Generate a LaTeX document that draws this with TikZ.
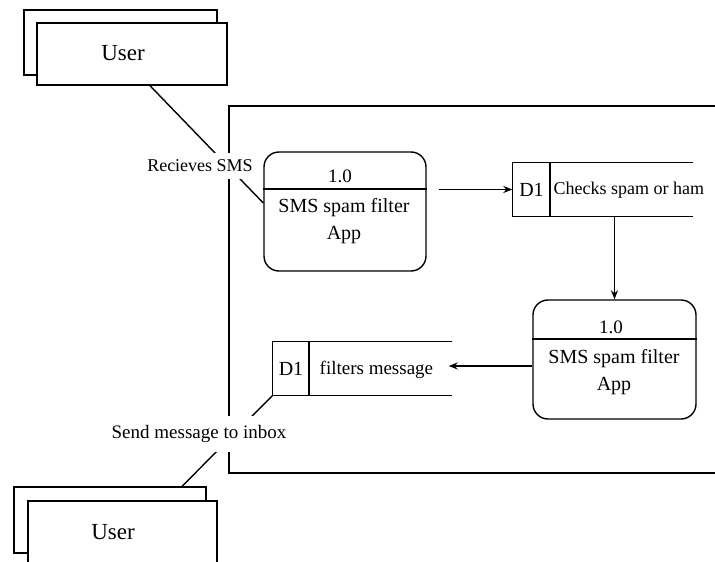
\documentclass[tikz,border=0pt]{standalone}
\usepackage{fontspec}
\setmainfont{Liberation Serif}
\newfontfamily\tnr{Liberation Serif}
\usetikzlibrary{arrows.meta}
\begin{document}
\begin{tikzpicture}[x=1pt,y=-1pt,
  line width=1.4pt,
  ent/.style={draw, fill=white, rectangle, inner sep=0pt},
  proc/.style={draw, rounded corners=15pt, inner sep=0pt, minimum width=162pt, minimum height=119pt},
  store/.style={inner sep=0pt, minimum width=179pt, minimum height=53pt},
  txt/.style={inner sep=0pt, font=\tnr\fontsize{#1}{#1}\selectfont},
  ptxt/.style={inner sep=0pt, align=center, font=\tnr\fontsize{20}{27}\selectfont},
  lbl/.style={fill=white, inner xsep=2pt, inner ysep=#1},
  flow/.style={-{Stealth[length=9pt,width=7pt]}},
]
\useasboundingbox (0,0) rectangle (715,562);

% system boundary
\draw (715,106) -- (229,106) -- (229,473) -- (715,473);

% top user entity
\node[ent, minimum width=193pt, minimum height=65pt] (u1b) at (120.5,42.5) {};
\node[ent, minimum width=190pt, minimum height=62pt] (u1) at (132,54) {};
\node[txt=23] (u1t) at (123,53) {User};

% bottom user entity
\node[ent, minimum width=192pt, minimum height=66pt] (u2b) at (110,520) {};
\node[ent, minimum width=189pt, minimum height=62pt] (u2) at (122.5,532) {};
\node[txt=23] (u2t) at (113,532) {User};

% process 1
\node[proc] (p1) at (345,211.5) {};
\draw (p1.west |- 0,189) -- (p1.east |- 0,189);
\node[txt=19] (p1n) at (340,176) {1.0};
\node[ptxt] (p1t) at (344,221.5) {SMS spam filter\\App};

% process 2
\node[proc, minimum width=163pt] (p2) at (614.5,359.5) {};
\draw (p2.west |- 0,339) -- (p2.east |- 0,339);
\node[txt=19] (p2n) at (611,327) {1.0};
\node[ptxt] (p2t) at (614,372) {SMS spam filter\\App};

% data store 1
\node[store] (d1) at (602.5,189.5) {};
\draw (d1.north east) -- (d1.north west) -- (d1.south west) -- (d1.south east);
\draw (550,163) -- (550,216);
\node[txt=20] (d1n) at (531.5,190) {D1};
\node[txt=18, anchor=west] (d1t) at (553,190) {Checks spam or ham};

% data store 2
\node[store, minimum width=178pt] (d2) at (362,368.5) {};
\draw (d2.north east) -- (d2.north west) -- (d2.south west) -- (d2.south east);
\draw (309,342) -- (309,395);
\node[txt=20] (d2n) at (291,369) {D1};
\node[txt=19, anchor=west] (d2t) at (319,370) {filters message};

% flows
\draw[flow] ([xshift=12pt]p1.east |- d1.west) -- (d1.west);
\draw[flow] (p2.north |- d1.south) -- (p2.north);
\draw[flow] (p2.west |- 0,366) -- ([xshift=-3pt]d2.east |- 0,366);

\draw ([xshift=18pt]u1.south) -- ([yshift=8.5pt]p1.west);
\draw (d2.south west) -- ([xshift=72pt]u2b.north);

% labels
\node[txt=18, lbl=7pt] (l1) at (200,166) {Recieves SMS};
\node[txt=19, lbl=9pt] (l2) at (199,434) {Send message to inbox};
\end{tikzpicture}
\end{document}
